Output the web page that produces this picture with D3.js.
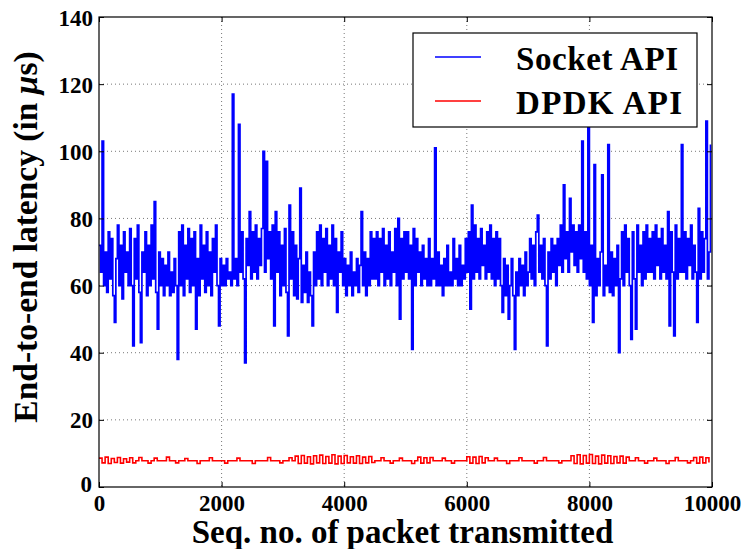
<!DOCTYPE html>
<html>
<head>
<meta charset="utf-8">
<script src="https://cdn.jsdelivr.net/npm/d3@7"></script>
<style>
  body { margin: 0; background: #fff; }
  text { font-family: "Liberation Serif", "Times New Roman", serif; font-weight: bold; }
</style>
</head>
<body>
<div id="chart"></div>
<script>
// socket latency, one reading every 25 packets
const socketStep = 25;
const socketAPI = [
  72,64,103,60,70,58,76,62,74,57,49,68,78,60,72,56,76,64,70,60,
  77,60,42,74,62,78,58,43,70,64,76,57,72,60,78,62,85,58,47,70,
  60,68,57,66,60,70,57,64,58,68,60,38,76,60,78,57,72,62,77,58,
  74,60,76,47,68,57,78,62,72,58,76,60,70,57,74,64,78,60,48,68,
  60,66,60,68,62,64,60,117,62,68,60,108,64,76,62,37,74,66,82,62,
  76,64,78,62,74,66,77,100,64,97,68,76,62,78,48,82,64,76,57,72,
  60,77,58,45,84,62,76,57,72,56,68,89,55,66,58,70,55,64,57,48,
  70,60,76,62,78,60,74,64,77,60,72,62,78,60,74,52,70,64,76,60,
  68,57,66,60,70,57,64,60,68,58,66,82,60,70,57,68,60,76,62,74,
  62,76,60,74,64,77,60,72,62,76,60,70,64,77,60,80,50,74,62,76,
  64,76,62,72,41,77,60,74,64,70,60,72,62,68,60,74,60,68,62,101,
  60,70,60,66,57,68,60,72,60,64,60,74,62,68,60,72,60,66,62,74,
  64,76,53,84,62,78,64,74,62,77,66,72,62,76,64,78,62,74,60,76,
  62,74,60,52,68,57,66,50,60,68,57,41,64,57,68,60,66,57,70,60,
  64,74,62,72,60,76,81,64,72,62,74,60,42,70,62,74,64,72,60,74,
  66,78,64,90,68,76,64,86,70,78,66,76,64,78,68,103,64,76,62,108,
  60,72,49,96,57,68,60,70,93,57,66,60,102,58,70,57,68,60,72,40,
  62,76,60,78,64,74,60,44,76,62,47,78,64,72,60,76,62,78,64,74,
  64,76,62,78,66,74,62,77,64,72,62,82,48,76,64,45,78,62,74,64,
  102,64,76,62,74,66,78,62,72,64,49,83,62,76,64,74,109,62,70,102
];

// DPDK latency, one reading every 50 packets
const dpdkStep = 50;
const dpdkAPI = [
  8.6,7.2,8.9,7.0,8.5,7.3,8.8,7.1,8.4,7.4,8.7,7.2,
  7.8,8.8,7.8,7.8,7.1,7.8,8.6,7.8,7.8,7.8,8.9,7.8,7.8,7.2,7.8,7.8,8.5,7.8,
  7.8,7.8,7.0,7.8,7.8,7.8,8.7,7.8,7.8,7.8,7.8,7.1,7.8,7.8,7.8,8.6,7.8,7.8,
  7.8,7.8,7.0,7.8,7.8,7.8,7.8,8.8,7.8,7.8,7.8,7.2,7.8,7.8,8.7,7.8,
  9.2,7.0,9.4,7.1,9.0,6.9,9.3,7.2,9.5,7.0,9.1,7.1,9.6,6.9,9.2,7.0,9.4,7.2,9.0,7.1,9.3,7.0,8.9,7.2,9.1,7.3,
  7.8,7.8,8.7,7.8,7.8,7.1,7.8,7.8,8.6,7.8,7.8,7.8,7.0,7.8,
  8.9,7.1,8.7,7.2,8.8,
  7.8,7.8,7.8,8.6,7.8,7.8,7.1,7.8,7.8,7.8,7.8,
  9.0,7.1,8.9,7.0,9.1,7.2,8.7,
  7.8,7.8,8.6,7.8,7.8,7.8,7.0,7.8,7.8,7.8,8.7,7.8,7.8,7.8,7.8,7.1,7.8,7.8,8.8,7.8,7.8,7.8,7.8,7.2,7.8,7.8,7.8,
  9.3,7.0,9.6,6.9,9.4,7.1,9.7,7.0,9.2,6.9,9.5,7.1,9.3,7.0,9.1,7.2,9.2,7.1,8.9,
  7.8,7.8,8.7,7.8,7.8,7.1,7.8,7.8,8.6,7.8,7.8,7.8,7.0,7.8,7.8,8.8,7.8,7.8,7.8,7.2,7.8,
  8.8,7.1,8.9,7.2,8.7,7.3
];

const xTicks = [0, 2000, 4000, 6000, 8000, 10000];
const yTicks = [0, 20, 40, 60, 80, 100, 120, 140];
const seriesNames = ["Socket API", "DPDK API"];
const seriesColors = ["#0000ff", "#ff0000"];

const W = 747, H = 549;
const m = {t:17, r:35, b:62, l:99};
const iw = W - m.l - m.r, ih = H - m.t - m.b;

const x = d3.scaleLinear().domain([0, 10000]).range([0, iw]);
const y = d3.scaleLinear().domain([0, 140]).range([ih, 0]);

const svg = d3.select("#chart").append("svg")
  .attr("width", W)
  .attr("height", H);

const g = svg.append("g").attr("transform", `translate(${m.l},${m.t})`);

// dotted grid
g.append("g").selectAll("line").data(xTicks.slice(1, -1)).join("line")
  .attr("x1", d => x(d)).attr("x2", d => x(d))
  .attr("y1", 0).attr("y2", ih)
  .attr("stroke", "#777").attr("stroke-width", 1).attr("stroke-dasharray", "1,3");
g.append("g").selectAll("line").data(yTicks.slice(1, -1)).join("line")
  .attr("y1", d => y(d)).attr("y2", d => y(d))
  .attr("x1", 0).attr("x2", iw)
  .attr("stroke", "#777").attr("stroke-width", 1).attr("stroke-dasharray", "1,3");

// step lines so each reading shows as a vertical stroke, like the dense original
const line = d3.line()
  .curve(d3.curveStepAfter)
  .x(d => x(d[0]))
  .y(d => y(d[1]));

g.append("path")
  .datum(socketAPI.map((v, i) => [i * socketStep, v]))
  .attr("fill", "none")
  .attr("stroke", seriesColors[0])
  .attr("stroke-width", 1.7)
  .attr("d", line);

g.append("path")
  .datum(dpdkAPI.map((v, i) => [i * dpdkStep, v]))
  .attr("fill", "none")
  .attr("stroke", seriesColors[1])
  .attr("stroke-width", 1.6)
  .attr("d", line);

// axes, ticks pointing inward on all sides
const axB = g.append("g").attr("transform", `translate(0,${ih})`)
  .call(d3.axisBottom(x).tickValues(xTicks).tickSize(-5).tickPadding(8).tickFormat(d3.format("d")));
const axT = g.append("g")
  .call(d3.axisTop(x).tickValues(xTicks).tickSize(-5).tickFormat(""));
const axL = g.append("g")
  .call(d3.axisLeft(y).tickValues(yTicks).tickSize(-5).tickPadding(6));
const axR = g.append("g").attr("transform", `translate(${iw},0)`)
  .call(d3.axisRight(y).tickValues(yTicks).tickSize(-5).tickFormat(""));

[axB, axT, axL, axR].forEach(a => {
  a.select(".domain").remove();
  a.selectAll(".tick line").attr("stroke", "#000");
  a.selectAll("text").attr("font-size", 23).attr("fill", "#000")
    .style("font-family", "Liberation Serif").style("font-weight", "bold");
});
axL.selectAll("text").attr("dy", "0.35em");
axL.selectAll(".tick").filter(d => d === 0).select("text").attr("dy", "0.2em").attr("x", -7);

g.append("rect")
  .attr("width", iw).attr("height", ih)
  .attr("fill", "none").attr("stroke", "#000").attr("stroke-width", 1.2);

// axis titles
svg.append("text")
  .attr("x", m.l + iw / 2 - 3).attr("y", 543)
  .attr("text-anchor", "middle")
  .attr("font-size", 33)
  .text("Seq. no. of packet transmitted");

const yl = svg.append("text")
  .attr("transform", `translate(37,${m.t + ih / 2 - 15}) rotate(-90)`)
  .attr("text-anchor", "middle")
  .attr("font-size", 33.5);
yl.append("tspan").text("End-to-end latency (in ");
yl.append("tspan").attr("font-style", "italic").text("\u03bc");
yl.append("tspan").text("s)");

// legend
const leg = svg.append("g").attr("transform", "translate(413,33)");
leg.append("rect")
  .attr("width", 284).attr("height", 94)
  .attr("fill", "#fff").attr("stroke", "#000").attr("stroke-width", 1.2);
seriesNames.forEach((name, i) => {
  const ly = 24 + i * 44;
  leg.append("line")
    .attr("x1", 22).attr("x2", 68).attr("y1", ly).attr("y2", ly)
    .attr("stroke", seriesColors[i]).attr("stroke-width", 1.3);
  leg.append("text")
    .attr("x", 103).attr("y", ly + 13)
    .attr("font-size", 33)
    .attr("textLength", i === 0 ? 162 : 166)
    .text(name);
});
</script>
</body>
</html>
